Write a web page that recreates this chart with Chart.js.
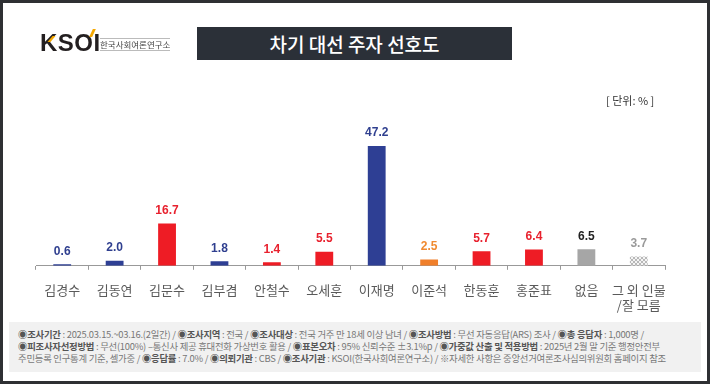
<!DOCTYPE html>
<html>
<head>
<meta charset="utf-8">
<script src="https://cdn.jsdelivr.net/npm/chart.js@4"></script>
<style>
  html, body { margin: 0; padding: 0; background: #fff; }
  body { width: 710px; height: 384px; position: relative; overflow: hidden; font-family: "Noto Sans CJK KR", "Noto Sans", sans-serif; }
  #frame { position: absolute; left: 0; top: 0; width: 704px; height: 378px; border: 3px solid #2e3033; }
  #chartBox { position: absolute; left: 0; top: 0; width: 710px; height: 384px; }
  #logo { position: absolute; left: 40px; top: 29px; }
  #logo .ksoi { font-family: "Liberation Sans", sans-serif; font-weight: bold; font-size: 24px; color: #231f20; letter-spacing: 0.5px; }
  #logo .acc { position: absolute; left: 51px; top: 0px; width: 3px; height: 8px; background: #f5a800; transform: skewX(-25deg); }
  #logo .acc2 { position: absolute; left: 10px; top: 7px; width: 3px; height: 6px; background: #f5a800; transform: skewX(-40deg); }
  #logo .kor { position: absolute; left: 60px; top: 9px; font-size: 8.5px; color: #444; white-space: nowrap; border-top: 1px solid #bbb; border-bottom: 1px solid #bbb; line-height: 11px; }
  #title { position: absolute; left: 197px; top: 27px; width: 315px; height: 33px; background: #2b3038; color: #fff; font-size: 19px; font-weight: 500; text-align: center; line-height: 33px; }
  #unit { position: absolute; left: 606px; top: 92px; font-size: 11px; color: #333; }
  #footer { position: absolute; left: 9px; top: 322px; width: 692px; height: 50px; background: #f1f1f1; font-size: 9.4px; color: #777; line-height: 12px; padding: 6px 0 0 9px; box-sizing: border-box; white-space: nowrap; letter-spacing: -0.25px; }
  #footer b { color: #555; }
</style>
</head>
<body>
<div id="frame"></div>
<div id="chartBox"><canvas id="chart"></canvas></div>
<div id="logo"><span class="ksoi">KSOI</span><div class="acc"></div><div class="acc2"></div><div class="kor">한국사회여론연구소</div></div>
<div id="title">차기 대선 주자 선호도</div>
<div id="unit">[ 단위: % ]</div>
<div id="footer">
  <div><b>◉조사기간</b> : 2025.03.15.~03.16.(2일간) / <b>◉조사지역</b> : 전국 / <b>◉조사대상</b> : 전국 거주 만 18세 이상 남녀 / <b>◉조사방법</b> : 무선 자동응답(ARS) 조사 / <b>◉총 응답자</b> : 1,000명 /</div>
  <div><b>◉피조사자선정방법</b> : 무선(100%) –통신사 제공 휴대전화 가상번호 활용 / <b>◉표본오차</b> : 95% 신뢰수준 ±3.1%p / <b>◉가중값 산출 및 적용방법</b> : 2025년 2월 말 기준 행정안전부</div>
  <div>주민등록 인구통계 기준, 셀가중 / <b>◉응답률</b> : 7.0% / <b>◉의뢰기관</b> : CBS / <b>◉조사기관</b> : KSOI(한국사회여론연구소) / ※자세한 사항은 중앙선거여론조사심의위원회 홈페이지 참조</div>
</div>
<script>
// data
const candidates = ["김경수", "김동연", "김문수", "김부겸", "안철수", "오세훈", "이재명", "이준석", "한동훈", "홍준표", "없음", ["그 외 인물", "/잘 모름"]];
const support = [0.6, 2.0, 16.7, 1.8, 1.4, 5.5, 47.2, 2.5, 5.7, 6.4, 6.5, 3.7];
const barColors = ["#2e3f94", "#2e3f94", "#ee1c25", "#2e3f94", "#ee1c25", "#ee1c25", "#2e3f94", "#f07f2a", "#ee1c25", "#ee1c25", "#a6a6a6", "hatch"];
const labelColors = ["#2f3f8f", "#2f3f8f", "#e8212e", "#2f3f8f", "#e8212e", "#e8212e", "#2f3f8f", "#f08a30", "#e8212e", "#e8212e", "#222222", "#9a9a9a"];

// hatched fill for the last bar
function makeHatch() {
    const c = document.createElement("canvas");
    c.width = 4; c.height = 4;
    const g = c.getContext("2d");
    g.fillStyle = "#f4f4f4";
    g.fillRect(0, 0, 4, 4);
    g.strokeStyle = "#b8b8b8";
    g.lineWidth = 1;
    g.beginPath();
    g.moveTo(0, 4); g.lineTo(4, 0);
    g.moveTo(0, 0); g.lineTo(4, 4);
    g.stroke();
    return g.createPattern(c, "repeat");
}
const hatch = makeHatch();

// value labels above bars
const valueLabels = {
    id: "valueLabels",
    afterDatasetsDraw(chart) {
        const ctx = chart.ctx;
        const meta = chart.getDatasetMeta(0);
        ctx.save();
        ctx.font = "bold 12px 'Liberation Sans', sans-serif";
        ctx.textAlign = "center";
        ctx.textBaseline = "bottom";
        meta.data.forEach((bar, i) => {
            ctx.fillStyle = labelColors[i];
            ctx.fillText(support[i].toFixed(1), bar.x, bar.y - 7);
        });
        ctx.restore();
    }
};

new Chart(document.getElementById("chart"), {
    type: "bar",
    data: {
        labels: candidates,
        datasets: [{
            data: support,
            backgroundColor: barColors.map(c => c === "hatch" ? hatch : c),
            barPercentage: 0.34,
            categoryPercentage: 1.0
        }]
    },
    options: {
        responsive: true,
        maintainAspectRatio: false,
        animation: false,
        layout: { padding: { left: 36, right: 45, top: 139, bottom: 59 } },
        plugins: { legend: { display: false }, tooltip: { enabled: false } },
        scales: {
            x: {
                grid: { drawOnChartArea: false, drawTicks: true, tickLength: 4, color: "#999" },
                border: { color: "#999" },
                ticks: { color: "#5a5a5a", font: { family: "'Noto Sans CJK KR'", size: 13 }, padding: 12, maxRotation: 0, autoSkip: false }
            },
            y: { display: false, min: 0, max: 50 }
        }
    },
    plugins: [valueLabels]
});
</script>
</body>
</html>
